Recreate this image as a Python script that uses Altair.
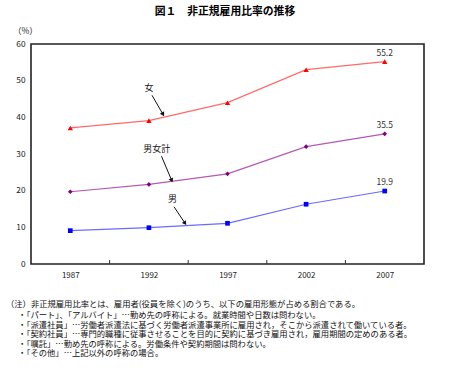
import altair as alt
import pandas as pd
import math

years = [1987, 1992, 1997, 2002, 2007]
women = [37.1, 39.1, 44.0, 53.0, 55.2]
total = [19.7, 21.7, 24.6, 32.0, 35.5]
men = [9.1, 9.9, 11.1, 16.3, 19.9]
series_names = ["女", "男女計", "男"]
tick_bounds = [1989.5, 1994.5, 1999.5, 2004.5]
y_ticks = [0, 10, 20, 30, 40, 50, 60]

title_text = "図１　非正規雇用比率の推移"
unit_text = "（%）"
note_head = "（注）非正規雇用比率とは、雇用者(役員を除く)のうち、以下の雇用形態が占める割合である。"
note_items = [
    "・「パート」、「アルバイト」…勤め先の呼称による。就業時間や日数は問わない。",
    "・「派遣社員」…労働者派遣法に基づく労働者派遣事業所に雇用され，そこから派遣されて働いている者。",
    "・「契約社員」…専門的職種に従事させることを目的に契約に基づき雇用され，雇用期間の定めのある者。",
    "・「嘱託」…勤め先の呼称による。労働条件や契約期間は問わない。",
    "・「その他」…上記以外の呼称の場合。",
]

# annotation label positions and arrow (start -> tip) in data units
ann_label = ["女", "男女計", "男"]
ann_x = [1992.0, 1992.5, 1993.5]
ann_y = [48.0, 31.4, 17.6]
arr_x1 = [1992.2, 1992.8, 1993.6]
arr_y1 = [46.0, 29.4, 15.6]
arr_x2 = [1992.9, 1993.45, 1994.3]
arr_y2 = [40.8, 22.8, 11.1]

W, H = 393, 220
XMIN, XMAX = 1984.5, 2009.5
YMIN, YMAX = 0, 60
px_x = W / (XMAX - XMIN)
px_y = H / (YMAX - YMIN)

FONT = "Noto Sans CJK JP"

rows = []
for n, vals in zip(series_names, [women, total, men]):
    for yr, v in zip(years, vals):
        rows.append({"year": yr, "value": v, "series": n})
df = pd.DataFrame(rows)

xscale = alt.Scale(domain=[XMIN, XMAX], nice=False, zero=False)
yscale = alt.Scale(domain=[YMIN, YMAX], nice=False)

x_axis = alt.Axis(values=years, format="d", ticks=False, domain=False, grid=False,
                  title=None, labelFont=FONT, labelFontSize=8, labelColor="#222",
                  labelPadding=7, labelOverlap=False)
y_axis = alt.Axis(values=y_ticks, ticks=False, domain=False, grid=False,
                  title=None, labelFont=FONT, labelFontSize=8.3, labelColor="#222",
                  labelPadding=6, labelOverlap=False)


def X(field):
    return alt.X(field, scale=xscale, axis=x_axis, title=None)


def Y(field):
    return alt.Y(field, scale=yscale, axis=y_axis, title=None)


line_colors = alt.Scale(domain=series_names, range=["#ff6a6a", "#b45ab4", "#6a6aff"])

lines = alt.Chart(df).mark_line(strokeWidth=1.2).encode(
    x=X("year:Q"), y=Y("value:Q"),
    color=alt.Color("series:N", scale=line_colors, legend=None),
    detail="series:N",
)


def pts(name, shape, color, size):
    return alt.Chart(df[df.series == name]).mark_point(
        shape=shape, filled=True, color=color, size=size, opacity=1
    ).encode(x=X("year:Q"), y=Y("value:Q"))


p_w = pts("女", "triangle-up", "#ff0000", 28)
p_t = pts("男女計", "diamond", "#800080", 22)
p_m = pts("男", "square", "#0000ff", 22)

last = df[df.year == 2007]
end_labels = alt.Chart(last).mark_text(dy=-9, font=FONT, fontSize=8.5, color="#333").encode(
    x=X("year:Q"), y=Y("value:Q"),
    text=alt.Text("value:Q", format=".1f"))

ticks_df = pd.DataFrame({"b": tick_bounds})
ticks = alt.Chart(ticks_df).mark_rule(color="#333", strokeWidth=1).encode(
    x=X("b:Q"), y=alt.value(H), y2=alt.value(H - 4))

ann = pd.DataFrame({"label": ann_label, "x": ann_x, "y": ann_y,
                    "x1": arr_x1, "y1": arr_y1, "x2": arr_x2, "y2": arr_y2})
ann["angle"] = [
    (math.degrees(math.atan2((b - a) * px_x, (d - c) * px_y))) % 360
    for a, b, c, d in zip(ann.x1, ann.x2, ann.y1, ann.y2)
]
ann_text = alt.Chart(ann).mark_text(font=FONT, fontSize=9, color="#111").encode(
    x=X("x:Q"), y=Y("y:Q"), text="label:N")
ann_rule = alt.Chart(ann).mark_rule(color="#111", strokeWidth=1).encode(
    x=X("x1:Q"), y=Y("y1:Q"), x2="x2:Q", y2="y2:Q")
ann_head = alt.Chart(ann).mark_point(shape="triangle-up", filled=True, color="#111",
                                     size=24, opacity=1).encode(
    x=X("x2:Q"), y=Y("y2:Q"),
    angle=alt.Angle("angle:Q", scale=None))

title = alt.Chart(pd.DataFrame({"t": [title_text]})).mark_text(
    font=FONT, fontSize=10.8, fontWeight="bold", color="#000").encode(
    x=alt.value(194), y=alt.value(-32), text="t:N")
unit = alt.Chart(pd.DataFrame({"t": [unit_text]})).mark_text(
    font=FONT, fontSize=8.5, color="#222", align="left").encode(
    x=alt.value(-18), y=alt.value(-13), text="t:N")
head_mark = alt.Chart(pd.DataFrame({"t": [note_head]})).mark_text(
    font=FONT, fontSize=8.3, color="#111", align="left", baseline="top").encode(
    x=alt.value(-25), y=alt.value(256), text="t:N")
items_mark = alt.Chart(pd.DataFrame({"t": ["\n".join(note_items)]})).mark_text(
    font=FONT, fontSize=8.3, color="#111", align="left", baseline="top",
    lineBreak="\n", lineHeight=9.6).encode(
    x=alt.value(-13), y=alt.value(267), text="t:N")

chart = alt.layer(
    lines, p_w, p_t, p_m, end_labels, ticks, ann_rule, ann_head, ann_text,
    title, unit, head_mark, items_mark
).properties(
    width=W, height=H,
    autosize=alt.AutoSizeParams(type="none"),
    padding={"left": 31, "top": 44, "right": 26, "bottom": 112},
    background="white",
).configure_view(stroke="#222", strokeWidth=1.6)

chart.save("out.html", embed_options={"renderer": "svg", "actions": False})
